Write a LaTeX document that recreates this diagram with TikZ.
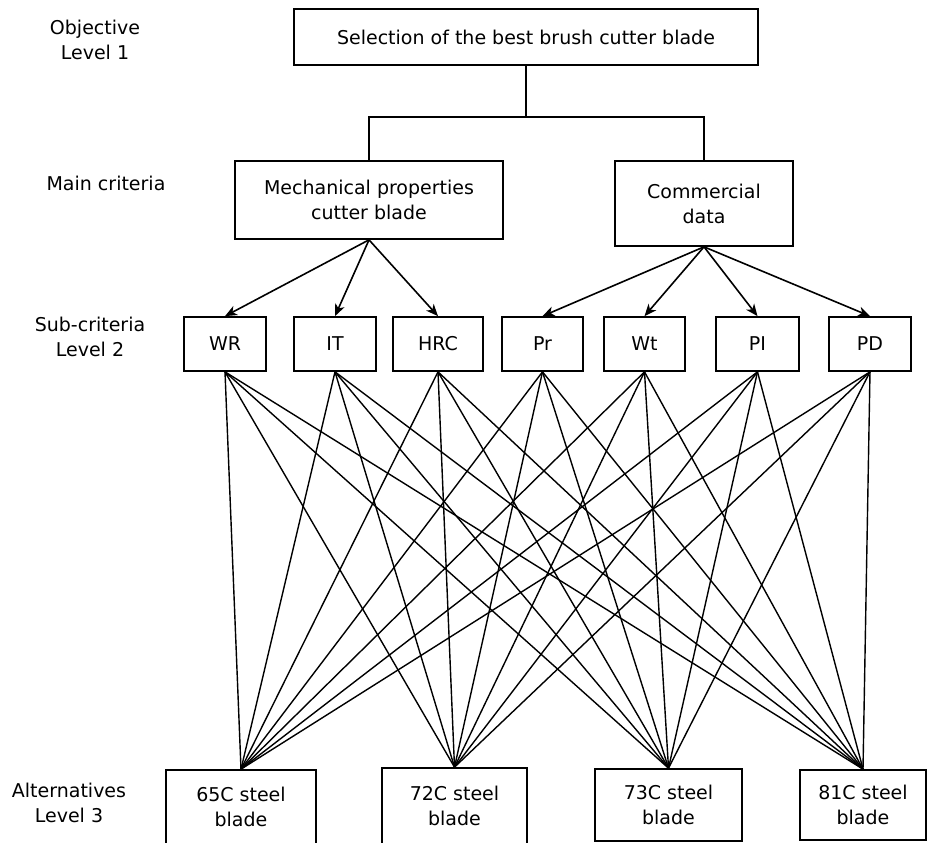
\documentclass[tikz,border=0pt]{standalone}
\usepackage{fontspec}
\setmainfont{DejaVu Sans}
\usetikzlibrary{arrows.meta}

\begin{document}
\begin{tikzpicture}[x=1pt,y=-1pt,
  every node/.style={font=\fontsize{19}{25}\selectfont, align=center},
  box/.style={draw, line width=1.7pt, inner sep=0pt},
  link/.style={line width=1.6pt},
  arr/.style={line width=1.6pt, -{Stealth[length=12pt,width=10pt,inset=3.5pt]}},
  fan/.style={line width=1.4pt}]
\useasboundingbox (0,0) rectangle (927,843);
\node (objlbl) at (95,40) {Objective\\Level 1};
\node (mainlbl) at (106,183) {Main criteria};
\node (sublbl) at (90,336.5) {Sub-criteria\\Level 2};
\node (altlbl) at (69,803) {Alternatives\\Level 3};
\node [box, minimum width=464pt, minimum height=56pt] (goal) at (526,37) {Selection of the best brush cutter blade};
\node [box, minimum width=268pt, minimum height=78pt] (mech) at (369,200) {Mechanical properties\\cutter blade};
\node [box, minimum width=178pt, minimum height=85pt] (comm) at (704,203.5) {Commercial\\data};
\draw [link] (goal.south) -- ++(0,51) coordinate (split);
\draw [link] (split) -| (mech.north);
\draw [link] (split) -| (comm.north);
\foreach \name/\x/\w/\txt in {wr/225/82/WR, it/335/82/IT, hrc/438/90/HRC, pr/542.5/81/Pr,
        wt/644.5/81/Wt, pi/757.5/83/PI, pd/870/82/PD}
  \node [box, minimum width=\w*1pt, minimum height=54pt] (\name) at (\x,344) {\txt};
\foreach \s in {wr,it,hrc}
  \draw [arr] (mech.south) -- (\s.north);
\foreach \s in {pr,wt,pi,pd}
  \draw [arr] (comm.south) -- (\s.north);
\foreach \name/\x/\y/\w/\h/\txt in {a65/241/807/150/74/65C, a72/454.5/806/145/76/72C,
        a73/668.5/805/147/72/73C, a81/863/805/126/70/81C}
  \node [box, minimum width=\w*1pt, minimum height=\h*1pt] (\name) at (\x,\y) {\txt{} steel\\blade};
\foreach \s in {wr,it,hrc,pr,wt,pi,pd}
  \foreach \a in {a65,a72,a73,a81}
    \draw [fan] (\s.south) -- (\a.north);
\end{tikzpicture}
\end{document}
